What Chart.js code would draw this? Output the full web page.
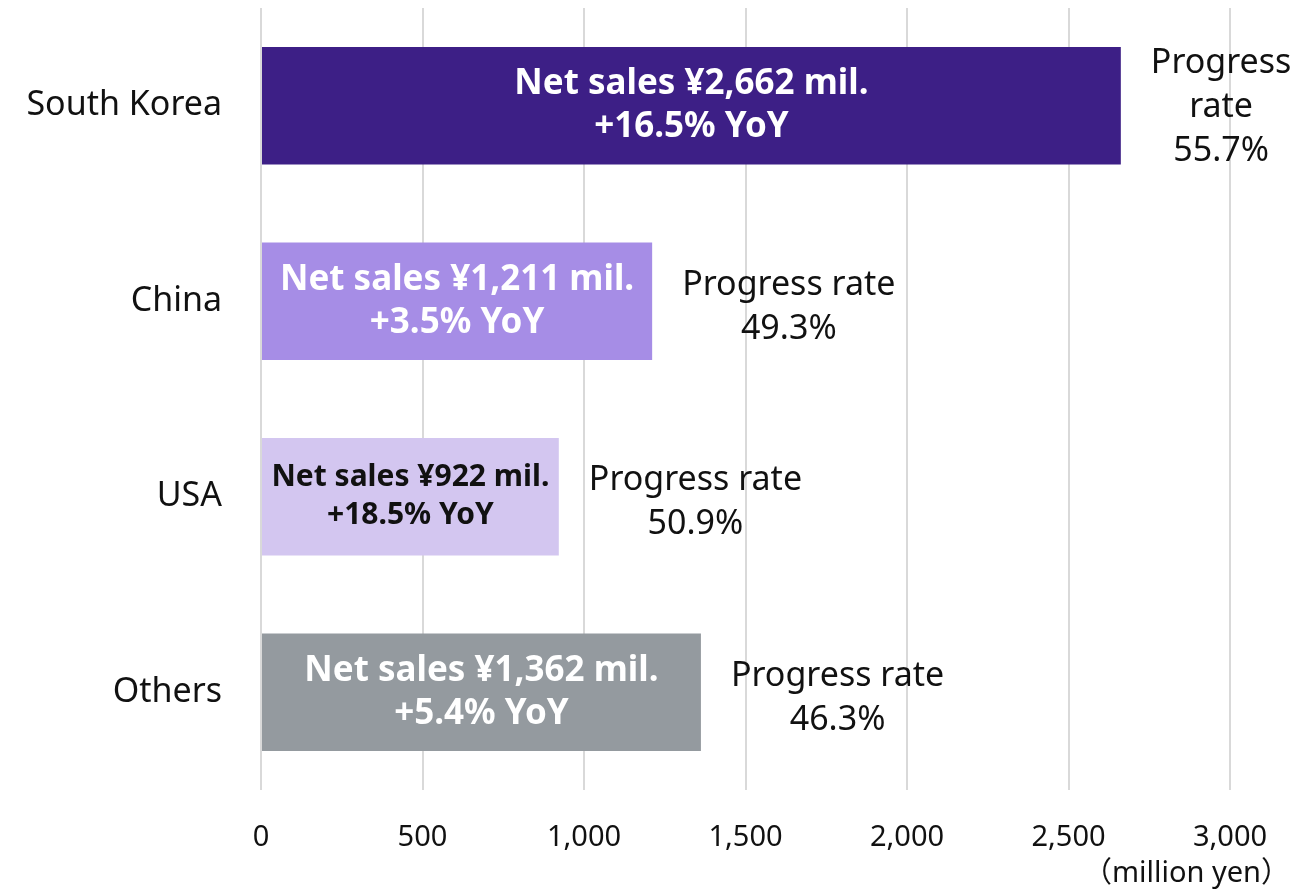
<!DOCTYPE html>
<html>
<head>
<meta charset="utf-8">
<script src="https://cdn.jsdelivr.net/npm/chart.js@4"></script>
<style>
  html, body { margin: 0; padding: 0; background: #fff; }
  #wrap { width: 1307px; height: 889px; }
</style>
</head>
<body>
<div id="wrap"><canvas id="salesChart"></canvas></div>
<script>
const categories = ['South Korea', 'China', 'USA', 'Others'];
const netSales = [2662, 1211, 922, 1362];
const yoyGrowth = [16.5, 3.5, 18.5, 5.4];
const progressRate = [55.7, 49.3, 50.9, 46.3];
const barColors = ['#3d1f86', '#a68de6', '#d3c6f0', '#949a9f'];
const labelColors = ['#ffffff', '#ffffff', '#111111', '#ffffff'];
const xTicks = [0, 500, 1000, 1500, 2000, 2500, 3000];

const FONT = '"Noto Sans", "Open Sans", sans-serif';

// draws the text inside and beside each bar
const barText = {
  id: 'barText',
  afterDatasetsDraw(chart) {
    const ctx = chart.ctx;
    const meta = chart.getDatasetMeta(0);
    ctx.save();
    ctx.textBaseline = 'middle';
    meta.data.forEach((bar, i) => {
      const small = bar.width < 320;
      const size = small ? 30 : 35;
      const lh = small ? 38 : 43;
      ctx.font = `bold ${size}px ${FONT}`;
      ctx.fillStyle = labelColors[i];
      ctx.textAlign = 'center';
      const cx = (bar.base + bar.x) / 2;
      const lines = [
        `Net sales ¥${netSales[i].toLocaleString('en-US')} mil.`,
        `+${yoyGrowth[i].toFixed(1)}% YoY`
      ];
      lines.forEach((t, k) => ctx.fillText(t, cx, bar.y + (k - 0.5) * lh));

      // progress rate next to the bar
      ctx.font = `34px ${FONT}`;
      ctx.fillStyle = '#111';
      const left = bar.x + 30;
      let pLines = ['Progress rate', progressRate[i].toFixed(1) + '%'];
      if (left + ctx.measureText(pLines[0]).width > chart.width) {
        pLines = ['Progress', 'rate', pLines[1]];
      }
      const blockW = Math.max(...pLines.map(t => ctx.measureText(t).width));
      const plh = 44;
      const off = pLines.length === 2 ? 6 : 2;
      pLines.forEach((t, k) => {
        ctx.fillText(t, left + blockW / 2, bar.y + off + (k - (pLines.length - 1) / 2) * plh);
      });
    });

    // unit label
    ctx.font = `29px ${FONT}, "Noto Sans CJK JP"`;
    ctx.textAlign = 'right';
    ctx.fillStyle = '#111';
    ctx.fillText('（million yen）', chart.chartArea.right + 60, chart.chartArea.bottom + 84);
    ctx.restore();
  }
};

const ctx = document.getElementById('salesChart').getContext('2d');
new Chart(ctx, {
  type: 'bar',
  data: {
    labels: categories,
    datasets: [{
      data: netSales,
      backgroundColor: barColors,
      barPercentage: 0.6,
      categoryPercentage: 1
    }]
  },
  options: {
    indexAxis: 'y',
    responsive: true,
    maintainAspectRatio: false,
    animation: false,
    layout: { padding: { top: 8, right: 77, left: 0, bottom: 0 } },
    plugins: { legend: { display: false }, tooltip: { enabled: false } },
    scales: {
      x: {
        min: 0,
        max: 3000,
        afterBuildTicks: s => { s.ticks = xTicks.map(v => ({ value: v })); },
        afterFit: s => { s.height = 99; },
        grid: { color: '#d9d9d9', lineWidth: 2, drawTicks: false },
        border: { display: false },
        ticks: {
          padding: 30,
          color: '#111',
          font: { family: FONT, size: 29 },
          callback: v => v.toLocaleString('en-US')
        }
      },
      y: {
        afterFit: s => { s.width = 261; s.paddingTop = 0; s.paddingBottom = 0; },
        grid: { display: false, drawTicks: false },
        border: { display: false },
        ticks: {
          padding: 39,
          color: '#111',
          font: { family: FONT, size: 34 }
        }
      }
    }
  },
  plugins: [barText]
});
</script>
</body>
</html>
